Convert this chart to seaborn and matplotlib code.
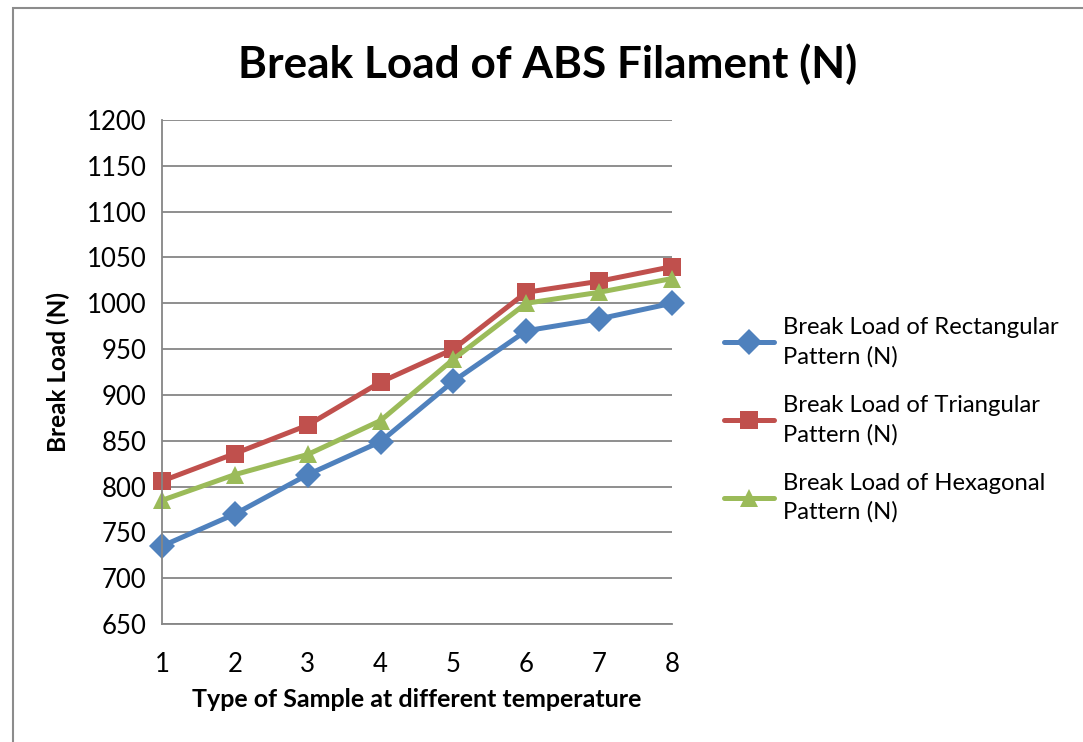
import matplotlib
matplotlib.use("Agg")
import matplotlib.pyplot as plt
import seaborn as sns
import pandas as pd
from matplotlib.patches import Rectangle

samples = [1, 2, 3, 4, 5, 6, 7, 8]
rectangular = [735, 770, 813, 849, 915, 970, 983, 1000]
triangular = [806, 836, 867, 914, 950, 1012, 1024, 1040]
hexagonal = [785, 813, 835, 872, 939, 1000, 1012, 1027]
series_names = ["Break Load of Rectangular\nPattern (N)",
                "Break Load of Triangular\nPattern (N)",
                "Break Load of Hexagonal\nPattern (N)"]
title = "Break Load of ABS Filament (N)"
xlabel = "Type of Sample at different temperature"
ylabel = "Break Load (N)"
yticks = list(range(650, 1201, 50))

rows = []
for name, vals in zip(series_names, [rectangular, triangular, hexagonal]):
    for s, v in zip(samples, vals):
        rows.append({"sample": s, "load": v, "series": name})
df = pd.DataFrame(rows)

sns.set_theme(style="white")
plt.rcParams['font.family'] = ['Lato', 'DejaVu Sans']
plt.rcParams['text.color'] = 'black'
plt.rcParams['axes.labelcolor'] = 'black'

W, H = 1083, 742
fig = plt.figure(figsize=(W / 100, H / 100), dpi=100)
ax = fig.add_axes([162 / W, 1 - 624 / H, 510 / W, 504 / H])

palette = {series_names[0]: "#4F81BD", series_names[1]: "#C0504D", series_names[2]: "#9BBB59"}
markers = {series_names[0]: "D", series_names[1]: "s", series_names[2]: "^"}

sns.lineplot(data=df, x="sample", y="load", hue="series", style="series",
             palette=palette, markers=markers, dashes=False, linewidth=3.6,
             markersize=13, markeredgewidth=0, ax=ax, legend=True)
for ln in ax.lines:
    ln.set_clip_on(False)

ax.set_xlim(1, 8)
ax.set_ylim(650, 1200)
ax.set_yticks(yticks)
ax.set_xticks(samples)
ax.grid(axis="y", color="#868686", linewidth=1.3)
ax.grid(axis="x", visible=False)
ax.set_axisbelow(True)
for sp in ["top", "right"]:
    ax.spines[sp].set_visible(False)
for sp in ["left", "bottom"]:
    ax.spines[sp].set_color("#868686")
    ax.spines[sp].set_linewidth(1.3)
ax.tick_params(axis="both", length=0, labelsize=18.5, colors="black")
ax.tick_params(axis="y", pad=11)
ax.tick_params(axis="x", pad=20)

ax.set_xlabel(xlabel, fontsize=18, fontweight="bold", labelpad=8)
ax.set_ylabel(ylabel, fontsize=17.5, fontweight="bold", labelpad=12)

fig.text(548 / W, 1 - 64 / H, title, ha="center", va="center",
         fontsize=31.8, fontweight="bold", color="black")

handles, labels = ax.get_legend_handles_labels()
leg = ax.legend(handles, labels, loc="center left", bbox_to_anchor=(702 / W, 1 - 420 / H),
                bbox_transform=fig.transFigure, frameon=False, fontsize=17.2,
                handlelength=2.1, labelspacing=1.15, handletextpad=0.4)
for t in leg.get_texts():
    t.set_linespacing(1.45)
    t.set_color("black")

fig.patches.append(Rectangle((13 / W, -0.05), 1.2, 1 - 8 / H + 0.05,
                             transform=fig.transFigure, fill=False,
                             edgecolor="#8c8c8c", linewidth=1.5))

fig.savefig("out.png", dpi=100)
